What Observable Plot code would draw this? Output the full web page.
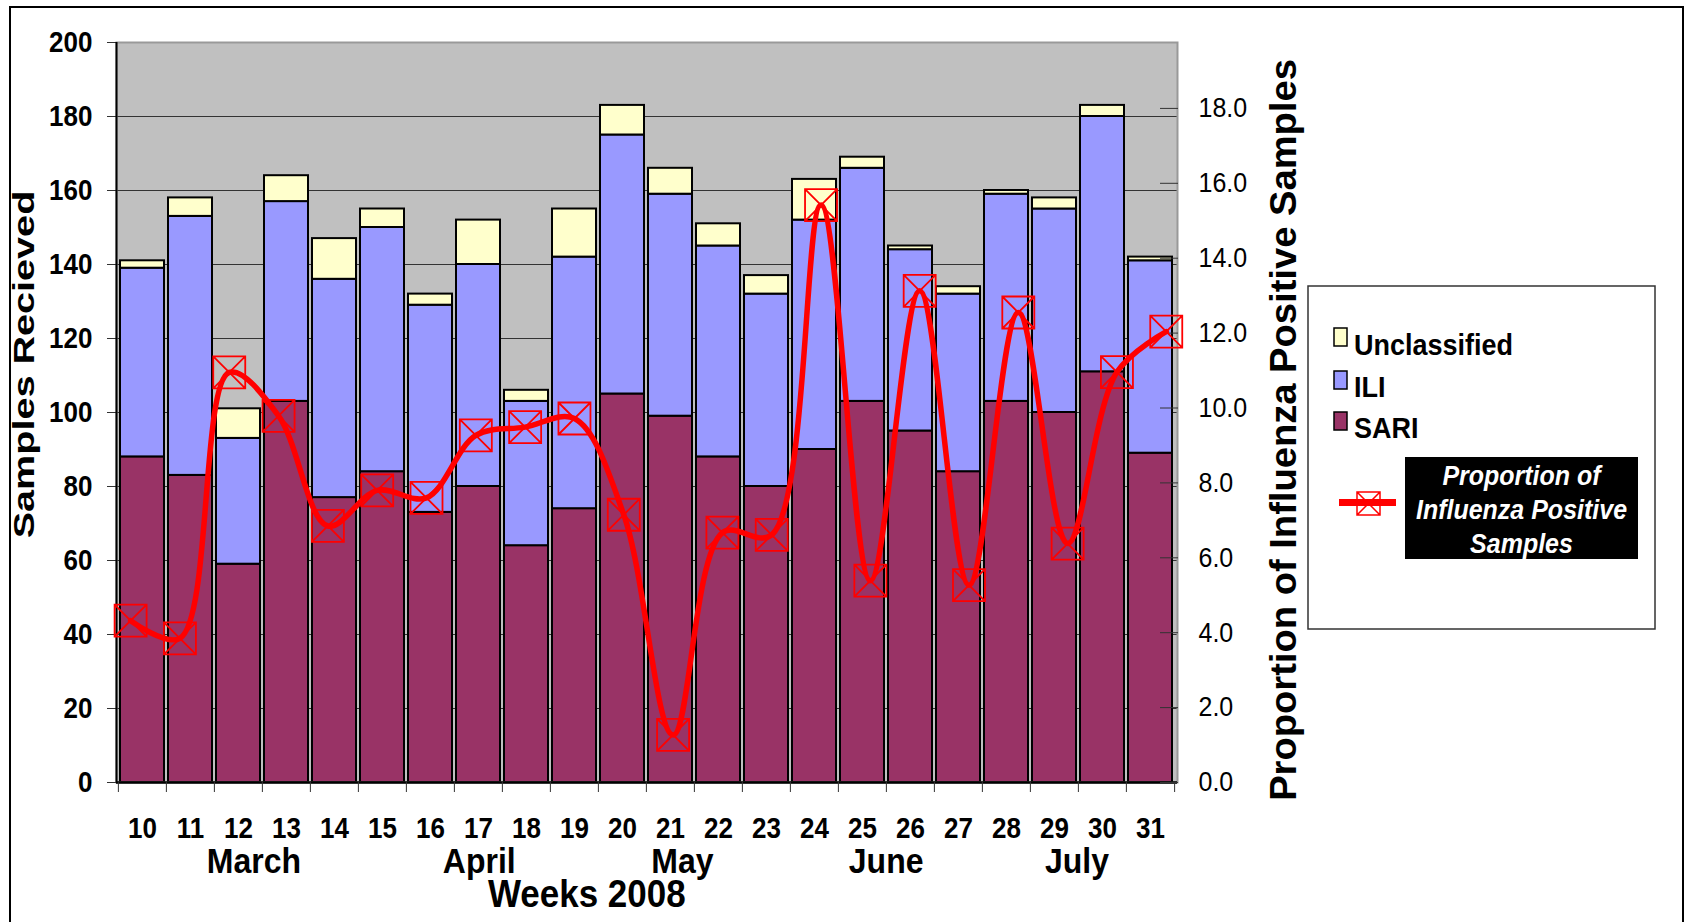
<!DOCTYPE html>
<html>
<head>
<meta charset="utf-8">
<script src="https://cdn.jsdelivr.net/npm/d3@7"></script>
<script src="https://cdn.jsdelivr.net/npm/@observablehq/plot@0.6"></script>
<style>
html,body{margin:0;padding:0;background:#fff;overflow:hidden;}
#chart{position:relative;width:1685px;height:922px;overflow:hidden;font-family:'Liberation Sans',Arial,sans-serif;}
#chart svg{position:absolute;left:0;top:0;}
#border{position:absolute;left:9px;top:6px;width:1675px;height:960px;border:2.5px solid #000;box-sizing:border-box;}
</style>
</head>
<body>
<div id="chart"><div id="border"></div></div>
<script>
// ---- data ----
const weeks = [10,11,12,13,14,15,16,17,18,19,20,21,22,23,24,25,26,27,28,29,30,31];
const sari = [88,83,59,103,77,84,73,80,64,74,105,99,88,80,90,103,95,84,103,100,111,89];
const ili = [51,70,34,54,59,66,56,60,39,68,70,60,57,52,62,63,49,48,56,55,69,52];
const unclassified = [2,5,8,7,11,5,3,12,3,13,8,7,6,5,11,3,1,2,1,3,3,1];
const proportion = [4.32,3.85,10.95,9.79,6.85,7.8,7.6,9.27,9.49,9.72,7.15,1.27,6.67,6.61,15.42,5.39,13.13,5.27,12.55,6.38,10.96,12.04];
const months = ["March","April","May","June","July"];
const monthWeeks = [12.5,17.07,21.19,25.32,29.19];
const axisTitle = "Weeks 2008";
const axisTitleWeek = 19.25;
const leftTicks = [0,20,40,60,80,100,120,140,160,180,200];
const rightTicks = [0,2,4,6,8,10,12,14,16,18];
const seriesNames = ["SARI","ILI","Unclassified"];
const seriesColors = ["#993366","#9999FF","#FFFFCC"];
const leftTitle = "Samples Recieved";
const rightTitle = "Proportion of Influenza Positive Samples";
const lineLabel = ["Proportion of","Influenza Positive","Samples"];

// ---- layout ----
const W = 1685, H = 922, mL = 116, mR = 508, mT = 42, mB = 140;
const midY = mT + (H - mT - mB) / 2;
const font = "'Liberation Sans', Arial, sans-serif";
const pIn = 0.08, pOut = 0.04;
const step = (W - mL - mR) / (weeks.length - pIn + 2 * pOut);

const rows = weeks.flatMap((w, i) => [
  {week: w, series: "SARI", value: sari[i]},
  {week: w, series: "ILI", value: ili[i]},
  {week: w, series: "Unclassified", value: unclassified[i]}
]);
const lineData = weeks.map((w, i) => ({week: w, p: proportion[i]}));
const monthData = months.map((m, i) => ({name: m, week: monthWeeks[i]}));

const boxX = {
  draw(ctx, size) {
    const r = Math.sqrt(size / Math.PI);
    ctx.moveTo(-r, -r); ctx.lineTo(r, -r); ctx.lineTo(r, r); ctx.lineTo(-r, r); ctx.closePath();
    ctx.moveTo(-r, -r); ctx.lineTo(r, r);
    ctx.moveTo(r, -r); ctx.lineTo(-r, r);
  }
};

const base = Plot.plot({
  width: W, height: H, marginLeft: mL, marginRight: mR, marginTop: mT, marginBottom: mB,
  style: {background: "transparent", fontFamily: font, color: "#000", overflow: "visible"},
  x: {type: "band", domain: weeks, paddingInner: pIn, paddingOuter: pOut},
  y: {domain: [0, 200]},
  color: {domain: seriesNames, range: seriesColors},
  marks: [
    Plot.frame({fill: "#C0C0C0", stroke: null}),
    Plot.gridY({ticks: leftTicks.filter(t => t > 0 && t < 200), stroke: "#333", strokeOpacity: 1, strokeWidth: 1}),
    Plot.barY(rows, {x: "week", y: "value", fill: "series", order: seriesNames, stroke: "#000", strokeWidth: 2}),
    Plot.frame({stroke: "#999", strokeWidth: 2}),
    Plot.ruleY([0], {stroke: "#000", strokeWidth: 2.5}),
    Plot.axisY({ticks: leftTicks, tickSize: 9, tickPadding: 15, fontSize: 26, fontWeight: "bold", label: null, stroke: "#333"}),
    Plot.axisX({tickSize: 10, dx: -step / 2, fill: "none", label: null, stroke: "#333"}),
    Plot.axisX({ticks: [weeks[weeks.length - 1]], tickSize: 10, dx: step / 2, fill: "none", label: null, stroke: "#333"}),
    Plot.axisX({tickSize: 0, tickPadding: 35, fontSize: 26, fontWeight: "bold", label: null}),
    Plot.text([leftTitle], {text: d => d, frameAnchor: "left", textAnchor: "middle", lineAnchor: "middle", rotate: -90, dx: 23.7 - mL, dy: 364 - midY, fontSize: 30, fontWeight: "bold"}),
    Plot.text([rightTitle], {text: d => d, frameAnchor: "right", textAnchor: "middle", lineAnchor: "middle", rotate: -90, dx: 1283.5 - (W - mR), dy: 429.5 - midY, fontSize: 36, fontWeight: "bold"})
  ]
});

const xDom = [9.714, 31.228];
const overlay = Plot.plot({
  width: W, height: H, marginLeft: mL, marginRight: mR, marginTop: mT, marginBottom: mB,
  style: {background: "transparent", fontFamily: font, color: "#000", overflow: "visible"},
  x: {domain: xDom, axis: null},
  y: {domain: [0, 19.76]},
  marks: [
    Plot.ruleX([xDom[0]], {stroke: "#000", strokeWidth: 2}),
    Plot.axisY({anchor: "right", ticks: rightTicks, tickSize: 18, dx: -18, fill: "none", label: null, stroke: "#333"}),
    Plot.axisY({anchor: "right", ticks: rightTicks, tickFormat: d => d.toFixed(1), tickSize: 0, tickPadding: 21, fontSize: 25, label: null}),
    Plot.dot(lineData, {x: "week", y: "p", symbol: boxX, r: 16, stroke: "#FF0000", strokeWidth: 1.8, fill: "none"}),
    Plot.line(lineData, {x: "week", y: "p", stroke: "#FF0000", strokeWidth: 5.5, curve: "catmull-rom"}),
    Plot.text(monthData, {x: "week", text: "name", frameAnchor: "bottom", lineAnchor: "middle", dy: 79, fontSize: 32, fontWeight: "bold"}),
    Plot.text([axisTitle], {x: () => axisTitleWeek, text: d => d, frameAnchor: "bottom", lineAnchor: "middle", dy: 112.5, fontSize: 35, fontWeight: "bold"})
  ]
});

function stretch(svg) {
  d3.select(svg).selectAll("text").each(function() {
    const t = this.getAttribute("transform") || "";
    const content = this.textContent;
    if (content === leftTitle) this.setAttribute("transform", t + " scale(1.32,1)");
    else if (content === rightTitle) this.setAttribute("transform", t + " scale(1.06,1)");
    else if (!/rotate/.test(t)) this.setAttribute("transform", t + " scale(1,1.1)");
  });
}
stretch(base);
stretch(overlay);

const chart = document.getElementById("chart");
chart.appendChild(base);
chart.appendChild(overlay);

// ---- legend ----
const leg = d3.select(chart).append("svg").attr("width", W).attr("height", H)
  .style("font-family", font);
leg.append("rect").attr("x", 1308).attr("y", 286).attr("width", 347).attr("height", 343)
  .attr("fill", "#fff").attr("stroke", "#333").attr("stroke-width", 1.5);
const legendItems = ["Unclassified", "ILI", "SARI"];
const swatchY = [328, 371, 412];
const textY = [355, 397, 438];
legendItems.forEach((name, i) => {
  leg.append("rect").attr("x", 1334).attr("y", swatchY[i]).attr("width", 13).attr("height", 18)
    .attr("fill", seriesColors[seriesNames.indexOf(name)]).attr("stroke", "#000").attr("stroke-width", 1.5);
  leg.append("text").attr("transform", `translate(1354,${textY[i]}) scale(1,1.1)`)
    .attr("font-size", 27).attr("font-weight", "bold").attr("fill", "#000").text(name);
});
leg.append("line").attr("x1", 1339).attr("x2", 1396).attr("y1", 502.5).attr("y2", 502.5)
  .attr("stroke", "#FF0000").attr("stroke-width", 7);
leg.append("path").attr("d", "M1357,492H1380V515H1357Z M1357,492L1380,515 M1380,492L1357,515")
  .attr("fill", "none").attr("stroke", "#FF0000").attr("stroke-width", 1.5);
leg.append("rect").attr("x", 1405).attr("y", 457).attr("width", 233).attr("height", 102).attr("fill", "#000");
const lblY = [485, 519.3, 552.7];
lineLabel.forEach((s, i) => {
  leg.append("text").attr("transform", `translate(1521.5,${lblY[i]}) scale(1,1.1)`)
    .attr("text-anchor", "middle").attr("font-size", 25).attr("font-weight", "bold")
    .attr("font-style", "italic").attr("fill", "#fff").text(s);
});
</script>
</body>
</html>
